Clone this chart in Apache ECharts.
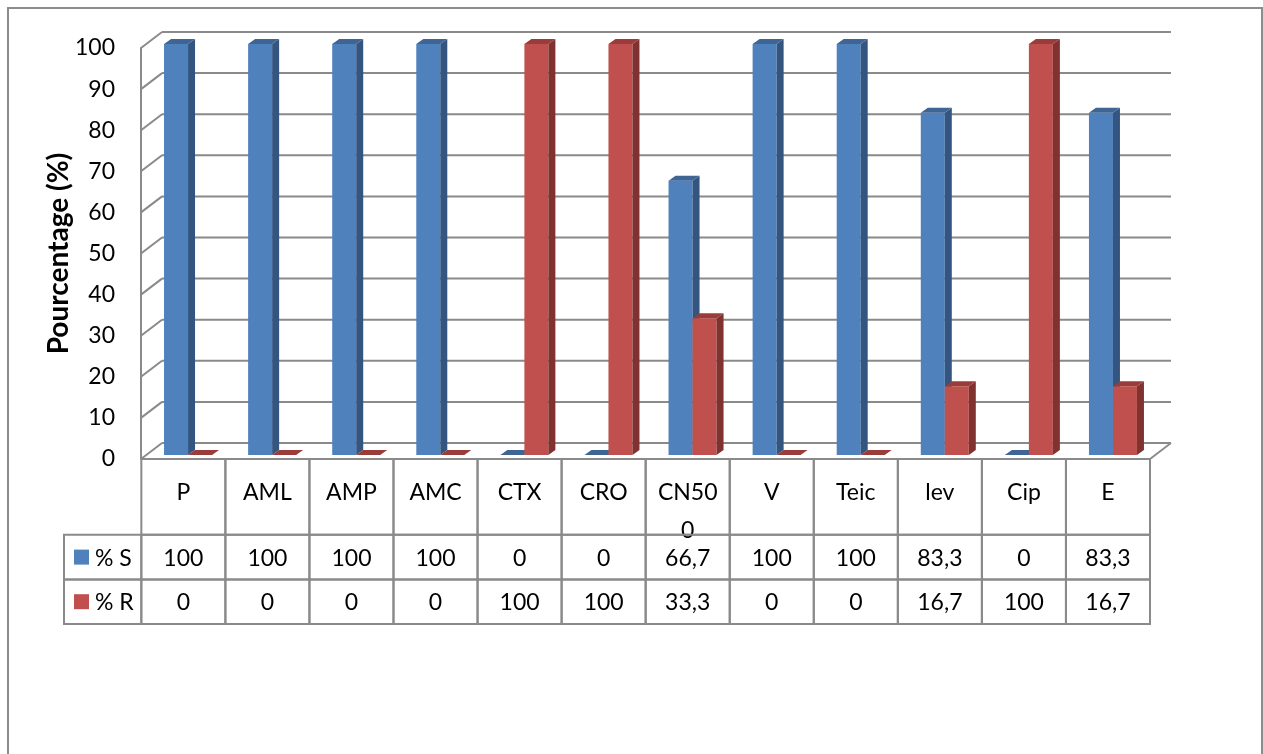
<!DOCTYPE html>
<html>
<head>
<meta charset="utf-8">
<script src="https://cdn.jsdelivr.net/npm/echarts@6/dist/echarts.min.js"></script>
<style>
  html, body { margin: 0; padding: 0; background: #fff; }
  #chart { width: 1263px; height: 754px; }
</style>
</head>
<body>
<div id="chart"></div>
<script>
/* donnees */
var categories = ['P', 'AML', 'AMP', 'AMC', 'CTX', 'CRO', 'CN500', 'V', 'Teic', 'lev', 'Cip', 'E'];
var valuesS = [100, 100, 100, 100, 0, 0, 66.7, 100, 100, 83.3, 0, 83.3];
var valuesR = [0, 0, 0, 0, 100, 100, 33.3, 0, 0, 16.7, 100, 16.7];
var seriesNames = ['% S', '% R'];
var yTicks = [0, 10, 20, 30, 40, 50, 60, 70, 80, 90, 100];

var FONT = 'Lato, "Noto Sans", sans-serif';
var LINE = '#8a8a8a';
// profondeur du mur du fond / des barres (effet 3D)
var DX = 21, DY = -16;
var BX = 5, BY = -4, BDX = 7, BDY = -5;
var BAR_RATIO = 0.2855;

var colorsS = { front: '#4F81BD', side: '#34557F', top: '#3F6595' };
var colorsR = { front: '#C0504D', side: '#803230', top: '#9A3C3A' };

var myChart = echarts.init(document.getElementById('chart'));

/* mur du fond + mur gauche */
function renderWalls(params, api) {
    var v = api.value(1);
    var bw = api.size([1, 0])[0];
    var pl = api.coord([0, v]);
    var pr = api.coord([categories.length - 1, v]);
    var xl = pl[0] - bw / 2, xr = pr[0] + bw / 2, y = pl[1];
    var children = [
        { type: 'line', shape: { x1: xl, y1: y, x2: xl + DX, y2: y + DY }, style: { stroke: LINE, lineWidth: 2 } },
        { type: 'line', shape: { x1: xl + DX, y1: y + DY, x2: xr + DX, y2: y + DY }, style: { stroke: LINE, lineWidth: 2 } }
    ];
    if (v === 0) {
        children.push({ type: 'line', shape: { x1: xr, y1: y, x2: xr + DX, y2: y + DY }, style: { stroke: LINE, lineWidth: 2 } });
    }
    return { type: 'group', children: children };
}

/* barre 3D : face avant, cote, dessus */
function makeBarRender(side, colors) {
    return function (params, api) {
        var idx = api.value(0), val = api.value(1);
        var bw = api.size([1, 0])[0];
        var w = bw * BAR_RATIO;
        var top = api.coord([idx, val]);
        var bot = api.coord([idx, 0]);
        var x0 = (side === 0 ? top[0] - w : top[0]) + BX;
        var yt = top[1] + BY, yb = bot[1] + BY;
        var h = yb - yt;
        var children = [];
        if (h > 0.5) {
            children.push({ type: 'rect', shape: { x: x0, y: yt, width: w, height: h }, style: { fill: colors.front } });
            children.push({ type: 'polygon', shape: { points: [[x0 + w, yt], [x0 + w + BDX, yt + BDY], [x0 + w + BDX, yb + BDY], [x0 + w, yb]] }, style: { fill: colors.side } });
        }
        children.push({ type: 'polygon', shape: { points: [[x0, yt], [x0 + w, yt], [x0 + w + BDX, yt + BDY], [x0 + BDX, yt + BDY]] }, style: { fill: colors.top } });
        return { type: 'group', children: children };
    };
}

/* tableau de donnees */
var KEY_X = -0.92, HDR = 1.7;
var cells = [];
categories.forEach(function (c, i) {
    cells.push({ x0: i, x1: i + 1, y0: 0, y1: HDR, text: c, kind: 'hdr' });
});
[valuesS, valuesR].forEach(function (arr, r) {
    cells.push({ x0: KEY_X, x1: 0, y0: HDR + r, y1: HDR + r + 1, text: seriesNames[r], kind: 'key', color: r === 0 ? colorsS.front : colorsR.front });
    arr.forEach(function (v, i) {
        cells.push({ x0: i, x1: i + 1, y0: HDR + r, y1: HDR + r + 1, text: String(v).replace('.', ','), kind: 'val' });
    });
});

function renderCell(params, api) {
    var c = cells[params.dataIndex];
    var p0 = api.coord([api.value(0), api.value(2)]);
    var p1 = api.coord([api.value(1), api.value(3)]);
    var x = p0[0], y = p0[1], w = p1[0] - p0[0], h = p1[1] - p0[1];
    var children = [
        { type: 'rect', shape: { x: x, y: y, width: w, height: h }, style: { fill: 'none', stroke: LINE, lineWidth: 2 } }
    ];
    if (c.kind === 'hdr') {
        children.push({ type: 'text', style: { text: c.text, x: x + w / 2, y: y + 15, align: 'center', verticalAlign: 'top', width: 60, overflow: 'breakAll', lineHeight: 38, fontSize: 23, fontFamily: FONT, fill: '#000' } });
    } else if (c.kind === 'key') {
        children.push({ type: 'rect', shape: { x: x + 10, y: y + h / 2 - 7.5, width: 15, height: 15 }, style: { fill: c.color } });
        children.push({ type: 'text', style: { text: c.text, x: x + 31, y: y + h / 2 + 1, align: 'left', verticalAlign: 'middle', fontSize: 23, fontFamily: FONT, fill: '#000' } });
    } else {
        children.push({ type: 'text', style: { text: c.text, x: x + w / 2, y: y + h / 2 + 1, align: 'center', verticalAlign: 'middle', fontSize: 23, fontFamily: FONT, fill: '#000' } });
    }
    return { type: 'group', children: children };
}

var option = {
    animation: false,
    graphic: [{
        type: 'rect', silent: true, z: -10,
        shape: { x: 8, y: 8, width: 1254, height: 800 },
        style: { fill: 'none', stroke: '#8c8c8c', lineWidth: 2 }
    }],
    grid: [
        { left: 141, right: 113, top: 48, bottom: 295 },
        { left: 64, right: 113, top: 459, bottom: 130 }
    ],
    xAxis: [
        { type: 'category', gridIndex: 0, data: categories, boundaryGap: true, show: false },
        { type: 'value', gridIndex: 1, min: KEY_X, max: 12, show: false }
    ],
    yAxis: [
        {
            type: 'value', gridIndex: 0, min: 0, max: 100, interval: 10,
            name: 'Pourcentage (%)', nameLocation: 'middle', nameRotate: 90, nameGap: 68,
            nameMoveOverlap: false,
            nameTextStyle: { fontFamily: FONT, fontWeight: 'bold', fontSize: 28, color: '#000' },
            axisLine: { show: true, lineStyle: { color: LINE, width: 2 } },
            axisTick: { show: false },
            splitLine: { show: false },
            axisLabel: { margin: 26, fontFamily: FONT, fontSize: 23, color: '#000', padding: [3, 0, 0, 0] }
        },
        { type: 'value', gridIndex: 1, min: 0, max: HDR + 2, inverse: true, show: false }
    ],
    series: [
        {
            type: 'custom', name: 'murs', xAxisIndex: 0, yAxisIndex: 0, silent: true, z: 1,
            renderItem: renderWalls,
            encode: { x: 0, y: 1 },
            data: yTicks.map(function (v) { return [0, v]; })
        },
        {
            type: 'custom', name: seriesNames[0], xAxisIndex: 0, yAxisIndex: 0, z: 2,
            renderItem: makeBarRender(0, colorsS),
            encode: { x: 0, y: 1 },
            data: valuesS.map(function (v, i) { return [i, v]; })
        },
        {
            type: 'custom', name: seriesNames[1], xAxisIndex: 0, yAxisIndex: 0, z: 3,
            renderItem: makeBarRender(1, colorsR),
            encode: { x: 0, y: 1 },
            data: valuesR.map(function (v, i) { return [i, v]; })
        },
        {
            type: 'custom', name: 'tableau', xAxisIndex: 1, yAxisIndex: 1, silent: true, z: 4,
            renderItem: renderCell,
            encode: { x: [0, 1], y: [2, 3] },
            data: cells.map(function (c) { return [c.x0, c.x1, c.y0, c.y1]; })
        }
    ]
};
myChart.setOption(option);
</script>
</body>
</html>
